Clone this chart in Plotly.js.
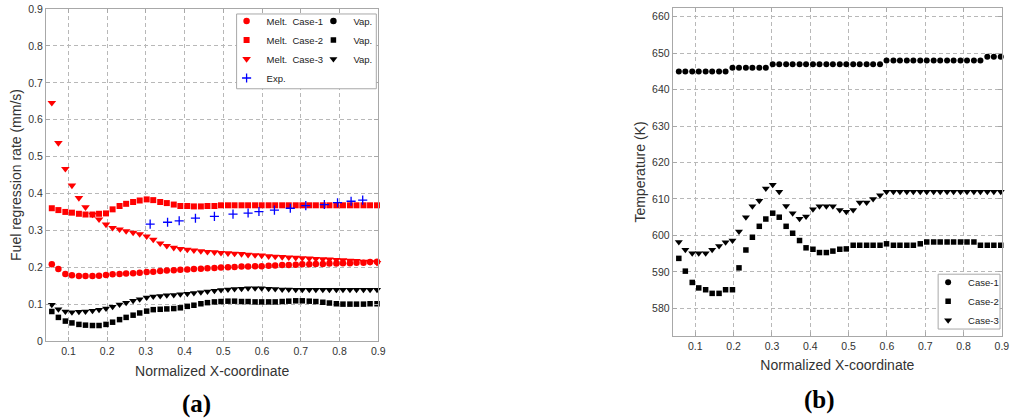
<!DOCTYPE html>
<html><head><meta charset="utf-8">
<script src="https://cdn.plot.ly/plotly-3.0.1.min.js"></script>
<style>html,body{margin:0;padding:0;background:#fff}</style>
</head><body><div id="chart" style="width:1011px;height:418px"></div>
<script>
// ---- data ----
const xNodes = [0.057,0.074,0.092,0.109,0.127,0.144,0.162,0.179,0.197,0.214,0.232,0.249,0.267,0.284,0.302,0.319,0.337,0.354,0.372,0.389,0.407,0.424,0.442,0.459,0.477,0.494,0.512,0.529,0.547,0.564,0.582,0.599,0.617,0.634,0.652,0.669,0.687,0.704,0.722,0.739,0.757,0.774,0.792,0.809,0.827,0.844,0.862,0.879,0.897];

const meltCase1 = [0.208,0.195,0.182,0.178,0.176,0.176,0.176,0.177,0.179,0.181,0.182,0.183,0.184,0.185,0.187,0.188,0.190,0.191,0.192,0.193,0.194,0.195,0.196,0.197,0.198,0.199,0.200,0.201,0.202,0.202,0.203,0.203,0.204,0.205,0.206,0.206,0.207,0.208,0.208,0.209,0.209,0.210,0.210,0.211,0.211,0.212,0.212,0.214,0.215];
const meltCase2 = [0.360,0.355,0.350,0.348,0.345,0.343,0.343,0.345,0.346,0.357,0.366,0.372,0.377,0.381,0.384,0.382,0.377,0.374,0.370,0.366,0.366,0.365,0.365,0.366,0.366,0.368,0.368,0.368,0.368,0.368,0.368,0.368,0.368,0.368,0.368,0.368,0.368,0.368,0.368,0.368,0.368,0.368,0.368,0.368,0.368,0.368,0.368,0.368,0.368];
const meltCase3 = [0.646,0.537,0.467,0.422,0.388,0.363,0.343,0.330,0.316,0.307,0.303,0.298,0.294,0.290,0.284,0.275,0.265,0.258,0.253,0.250,0.248,0.246,0.244,0.242,0.241,0.239,0.238,0.237,0.236,0.234,0.233,0.232,0.230,0.229,0.228,0.227,0.226,0.225,0.224,0.223,0.222,0.221,0.220,0.219,0.218,0.217,0.215,0.214,0.212];
// Vap. Case-1 appears only in the legend (no visible points in panel a)
const vapCase1X = [null];
const vapCase1 = [null];
const vapCase2 = [0.080,0.064,0.054,0.049,0.045,0.043,0.042,0.042,0.045,0.051,0.058,0.064,0.070,0.076,0.081,0.085,0.086,0.087,0.088,0.090,0.094,0.097,0.101,0.104,0.106,0.107,0.108,0.108,0.107,0.107,0.106,0.106,0.106,0.106,0.107,0.108,0.109,0.109,0.108,0.107,0.105,0.103,0.101,0.100,0.100,0.100,0.100,0.101,0.101];
const vapCase3 = [0.098,0.086,0.080,0.078,0.079,0.080,0.082,0.085,0.088,0.093,0.099,0.104,0.109,0.113,0.118,0.121,0.122,0.124,0.125,0.127,0.128,0.130,0.132,0.134,0.136,0.138,0.140,0.141,0.142,0.143,0.143,0.143,0.142,0.141,0.140,0.140,0.139,0.139,0.139,0.139,0.139,0.139,0.139,0.139,0.139,0.139,0.139,0.139,0.139];

const expX = [0.311,0.356,0.386,0.428,0.477,0.525,0.564,0.592,0.632,0.673,0.713,0.761,0.795,0.830,0.860];
const expY = [0.317,0.322,0.326,0.333,0.338,0.344,0.347,0.351,0.355,0.360,0.367,0.370,0.375,0.379,0.382];

const tempCase1 = [645,645,645,645,645,645,645,645,646,646,646,646,646,646,647,647,647,647,647,647,647,647,647,647,647,647,647,647,647,647,647,648,648,648,648,648,648,648,648,648,648,648,648,648,648,648,649,649,649];
const tempCase2 = [593.7,590.2,587.1,585.6,585.1,584.1,584.1,585.1,585.1,591.1,596.0,599.5,602.5,604.5,606.1,605.0,602.5,600.6,598.6,596.6,596.2,595.3,595.3,595.7,596.2,596.3,597.3,597.3,597.3,597.3,597.3,597.7,597.3,597.3,597.3,597.3,597.7,598.2,598.2,598.2,598.2,598.2,598.2,598.2,598.2,597.3,597.3,597.3,597.3];
const tempCase3 = [598.2,596.1,595.1,595.1,595.1,596.1,597.1,598.1,598.6,601.1,605.0,608.0,609.5,612.9,613.9,612.0,608.1,606.1,604.6,605.2,607.2,608,608,608,607,606.5,607,609,609,610,611,612,612,612,612,612,612,612,612,612,612,612,612,612,612,612,612,612,612];

const leftXTicks = [0.1,0.2,0.3,0.4,0.5,0.6,0.7,0.8,0.9];
const leftYTicks = [0,0.1,0.2,0.3,0.4,0.5,0.6,0.7,0.8,0.9];
const rightYTicks = [580,590,600,610,620,630,640,650,660];

// ---- layout helpers ----
const W = 1011, H = 418, ML = 46, MR = 7, MT = 7, MB = 77;
const px2x = p => (p - ML) / (W - ML - MR);
const py2y = p => (H - MB - p) / (H - MT - MB);

const FONT = 'Liberation Sans, Arial, sans-serif';
const RED = '#ff0000', BLUE = '#0000ff', BLK = '#000000';

function sc(x, y, name, sym, color, size, xa, ya, leg, extra) {
  const m = {symbol: sym, color: color, size: size, line: {width: 0}};
  if (extra) Object.assign(m, extra);
  return {type: 'scatter', mode: 'markers', x: x, y: y, name: name,
          marker: m, xaxis: xa, yaxis: ya, legend: leg, cliponaxis: false};
}

const traces = [
  sc(vapCase1X, vapCase1, 'Vap.', 'circle', BLK, 6.5, 'x', 'y', 'legend2'),
  sc(xNodes, vapCase2, 'Vap.', 'square', BLK, 5.5, 'x', 'y', 'legend2'),
  sc(xNodes, vapCase3, 'Vap.', 'triangle-down', BLK, 7, 'x', 'y', 'legend2'),
  sc(xNodes, meltCase1, 'Melt.\u00a0\u00a0Case-1', 'circle', RED, 6.5, 'x', 'y', 'legend'),
  sc(xNodes, meltCase2, 'Melt.\u00a0\u00a0Case-2', 'square', RED, 6, 'x', 'y', 'legend'),
  sc(xNodes, meltCase3, 'Melt.\u00a0\u00a0Case-3', 'triangle-down', RED, 7.5, 'x', 'y', 'legend'),
  sc(expX, expY, 'Exp.', 'cross-thin', BLUE, 6.5, 'x', 'y', 'legend', {line: {width: 1.3, color: BLUE}}),
  sc(xNodes, tempCase1, 'Case-1', 'circle', BLK, 6, 'x2', 'y2', 'legend3'),
  sc(xNodes, tempCase2, 'Case-2', 'square', BLK, 5.5, 'x2', 'y2', 'legend3'),
  sc(xNodes, tempCase3, 'Case-3', 'triangle-down', BLK, 7, 'x2', 'y2', 'legend3')
];

const axBase = {
  showline: true, linecolor: '#a8a8a8', linewidth: 1, mirror: 'ticks',
  ticks: 'inside', ticklen: 4, tickcolor: '#a8a8a8', tickwidth: 1,
  showgrid: true, gridcolor: '#b8b8b8', griddash: '4px,3px', gridwidth: 1,
  zeroline: false, automargin: false,
  tickfont: {family: FONT, size: 10.5, color: '#333'}
};
const titleFont = {family: FONT, size: 14, color: '#333'};

const legBase = {
  orientation: 'v', bgcolor: 'rgba(0,0,0,0)', borderwidth: 0,
  font: {family: FONT, size: 9.5, color: '#222'}, indentation: -15,
  xanchor: 'left', yanchor: 'top', tracegroupgap: 0
};

const layout = {
  width: W, height: H,
  margin: {l: ML, r: MR, t: MT, b: MB},
  paper_bgcolor: '#fff', plot_bgcolor: '#fff',
  showlegend: true,
  xaxis: Object.assign({}, axBase, {domain: [0, px2x(379)], range: [0.042, 0.9003],
    tickvals: leftXTicks, anchor: 'y',
    title: {text: 'Normalized X-coordinate', font: titleFont, standoff: 10}}),
  yaxis: Object.assign({}, axBase, {domain: [0, py2y(8)], range: [0, 0.9003],
    tickvals: leftYTicks, anchor: 'x',
    title: {text: 'Fuel regression rate (mm/s)', font: titleFont, standoff: 3}}),
  xaxis2: Object.assign({}, axBase, {domain: [px2x(674), 1], range: [0.041, 0.9003],
    tickvals: leftXTicks, anchor: 'y2',
    title: {text: 'Normalized X-coordinate', font: titleFont, standoff: 9}}),
  yaxis2: Object.assign({}, axBase, {domain: [py2y(336), 1], range: [572.4, 662.4],
    tickvals: rightYTicks, anchor: 'x2',
    title: {text: 'Temperature (K)', font: titleFont, standoff: 3}}),
  legend: Object.assign({}, legBase, {x: px2x(242), y: py2y(5.5)}),
  legend2: Object.assign({}, legBase, {x: px2x(329), y: py2y(5.5)}),
  legend3: Object.assign({}, legBase, {x: px2x(945), y: py2y(267.5)}),
  shapes: [
    {type: 'rect', xref: 'paper', yref: 'paper', layer: 'above',
     x0: px2x(237), x1: px2x(377), y0: py2y(88), y1: py2y(13),
     line: {color: '#a8a8a8', width: 1}, fillcolor: '#ffffff'},
    {type: 'rect', xref: 'paper', yref: 'paper', layer: 'above',
     x0: px2x(940), x1: px2x(1002), y0: py2y(329), y1: py2y(274),
     line: {color: '#a8a8a8', width: 1}, fillcolor: '#ffffff'}
  ],
  annotations: [
    {text: '<b>(a)</b>', xref: 'paper', yref: 'paper', x: px2x(197), y: py2y(404),
     xanchor: 'center', yanchor: 'middle', showarrow: false,
     font: {family: 'Liberation Serif, Times New Roman, serif', size: 25, color: '#000'}},
    {text: '<b>(b)</b>', xref: 'paper', yref: 'paper', x: px2x(821), y: py2y(400),
     xanchor: 'center', yanchor: 'middle', showarrow: false,
     font: {family: 'Liberation Serif, Times New Roman, serif', size: 25, color: '#000'}}
  ]
};

Plotly.newPlot('chart', traces, layout, {displayModeBar: false, staticPlot: true});
</script>
</body></html>
